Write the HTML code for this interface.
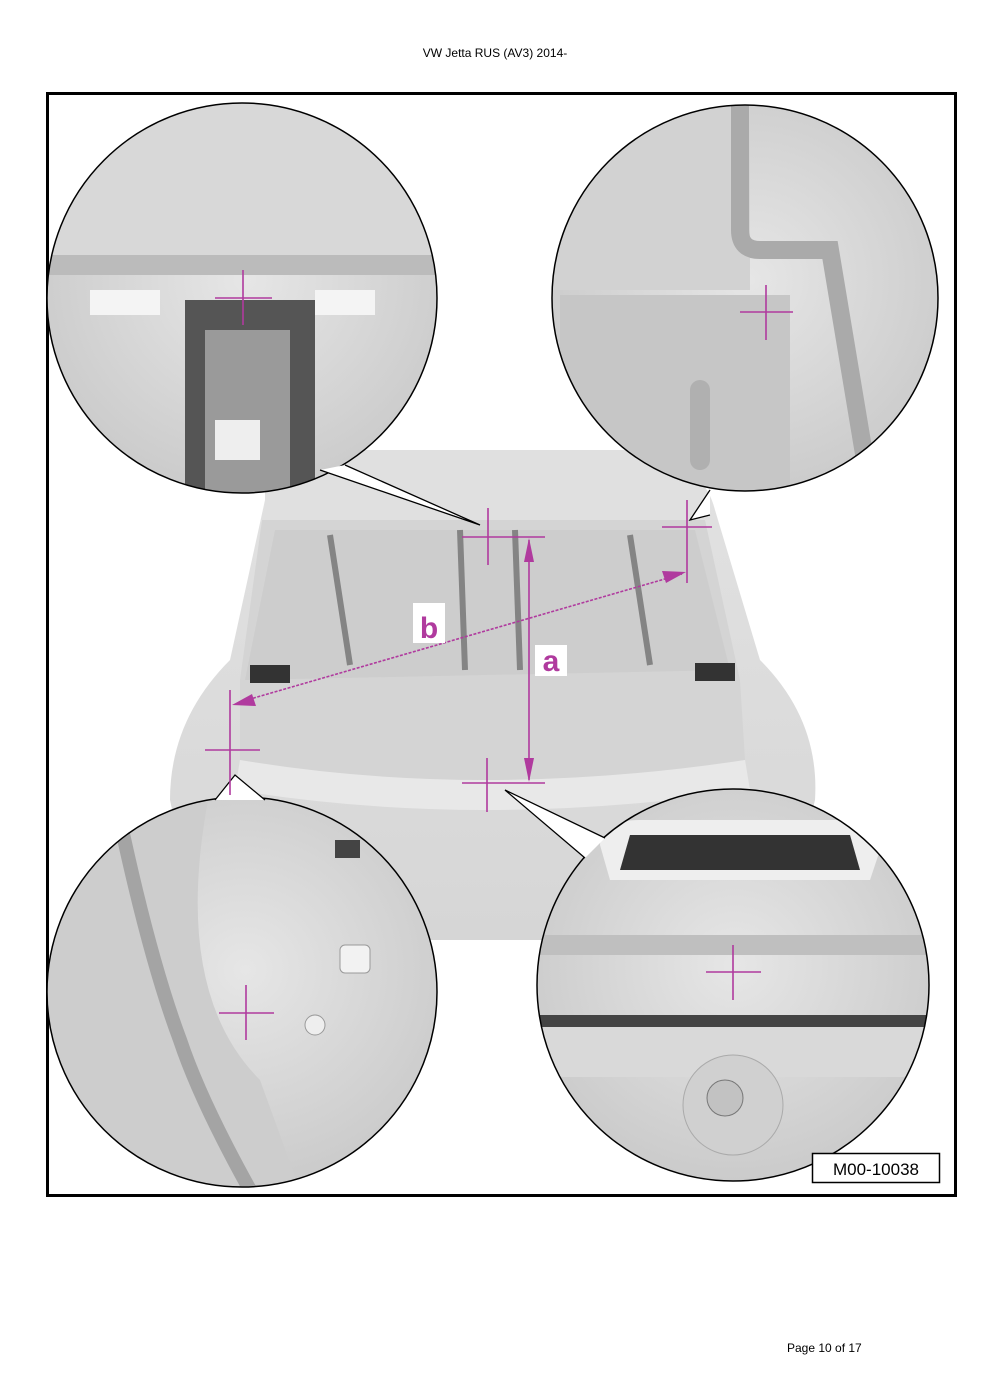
<!DOCTYPE html>
<html><head><style>
body{margin:0;background:#fff;}
svg{display:block;font-family:"Liberation Sans",sans-serif;}
</style></head><body>
<svg width="990" height="1400" viewBox="0 0 990 1400" xmlns="http://www.w3.org/2000/svg">
<defs>
<radialGradient id="g1" cx="0.5" cy="0.45" r="0.6"><stop offset="0" stop-color="#e6e6e6"/><stop offset="1" stop-color="#c8c8c8"/></radialGradient>
<linearGradient id="car" x1="0" y1="0" x2="0" y2="1"><stop offset="0" stop-color="#e2e2e2"/><stop offset="1" stop-color="#d6d6d6"/></linearGradient>
<clipPath id="c1"><circle cx="242" cy="298" r="195"/></clipPath>
<clipPath id="c2"><circle cx="745" cy="298" r="193"/></clipPath>
<clipPath id="c3"><circle cx="242" cy="992" r="195"/></clipPath>
<clipPath id="c4"><circle cx="733" cy="985" r="196"/></clipPath>
</defs>
<text x="495" y="57" font-size="12" text-anchor="middle">VW Jetta RUS (AV3) 2014-</text>
<rect x="47.5" y="93.5" width="908" height="1102" fill="#fff" stroke="#000" stroke-width="3"/>

<!-- car body -->
<path d="M265 500 Q270 470 330 455 L660 455 Q705 470 715 510 L760 660 Q820 720 815 800 L780 940 L200 940 L170 800 Q170 720 230 660 Z" fill="url(#car)"/>
<path d="M262 520 L705 520 L740 680 L745 760 Q600 790 480 785 Q330 785 240 760 L240 680 Z" fill="#d4d4d4"/>
<path d="M275 530 L695 530 L730 670 L245 680 Z" fill="#cdcdcd"/>
<rect x="265" y="450" width="440" height="70" fill="#e0e0e0"/>
<path d="M240 760 Q480 800 745 760 L750 790 Q480 830 235 790 Z" fill="#e8e8e8"/>
<path d="M330 535 l20 130 M630 535 l20 130 M460 530 l5 140 M515 530 l5 140" stroke="#555" stroke-width="6" opacity=".6"/>
<rect x="250" y="665" width="40" height="18" fill="#333"/><rect x="695" y="663" width="40" height="18" fill="#333"/>

<!-- circles -->
<g clip-path="url(#c1)">
<rect x="40" y="100" width="410" height="400" fill="url(#g1)"/>
<rect x="40" y="100" width="410" height="155" fill="#d8d8d8"/>
<rect x="40" y="255" width="410" height="20" fill="#bbb"/>
<rect x="185" y="300" width="130" height="200" fill="#555"/>
<rect x="205" y="330" width="85" height="170" fill="#9a9a9a"/>
<rect x="215" y="420" width="45" height="40" fill="#eee"/>
<rect x="90" y="290" width="70" height="25" fill="#f4f4f4"/><rect x="315" y="290" width="60" height="25" fill="#f4f4f4"/>
</g>
<circle cx="242" cy="298" r="195" fill="none" stroke="#000" stroke-width="1.5"/>
<g clip-path="url(#c2)">
<rect x="550" y="100" width="400" height="400" fill="url(#g1)"/>
<rect x="550" y="100" width="200" height="190" fill="#d2d2d2"/>
<path d="M740 100 L740 230 Q740 250 760 250 L830 250 L870 490" stroke="#aaa" stroke-width="18" fill="none"/>
<rect x="560" y="295" width="230" height="200" fill="#c6c6c6"/>
<rect x="690" y="380" width="20" height="90" rx="10" fill="#b0b0b0"/>
</g>
<circle cx="745" cy="298" r="193" fill="none" stroke="#000" stroke-width="1.5"/>
<g clip-path="url(#c3)">
<rect x="40" y="790" width="410" height="400" fill="url(#g1)"/>
<path d="M40 790 L210 790 Q170 990 260 1080 L300 1190 L40 1190 Z" fill="#cdcdcd"/>
<path d="M120 820 Q150 960 180 1040 Q200 1100 250 1190" stroke="#888" stroke-width="14" fill="none" opacity=".6"/>
<rect x="340" y="945" width="30" height="28" rx="5" fill="#f2f2f2" stroke="#999"/>
<rect x="335" y="840" width="25" height="18" fill="#444"/>
<circle cx="315" cy="1025" r="10" fill="#eee" stroke="#999"/>
</g>
<circle cx="242" cy="992" r="195" fill="none" stroke="#000" stroke-width="1.5"/>
<g clip-path="url(#c4)">
<rect x="530" y="785" width="410" height="400" fill="url(#g1)"/>
<path d="M600 845 Q600 820 640 820 L840 820 Q880 820 880 850 L870 880 L610 880 Z" fill="#eee"/>
<path d="M620 870 L630 835 L850 835 L860 870 Z" fill="#333"/>
<rect x="530" y="935" width="410" height="20" fill="#bfbfbf"/>
<rect x="530" y="1015" width="410" height="12" fill="#444"/>
<rect x="530" y="1027" width="410" height="50" fill="#d9d9d9"/>
<circle cx="733" cy="1105" r="50" fill="#d0d0d0" stroke="#aaa"/>
<circle cx="725" cy="1098" r="18" fill="#c2c2c2" stroke="#777"/>
</g>
<circle cx="733" cy="985" r="196" fill="none" stroke="#000" stroke-width="1.5"/>

<!-- callout wedges -->
<path d="M320 470 L480 525 L345 465" fill="#fff" stroke="#000" stroke-width="1.3"/>
<path d="M710 490 L690 520 L710 515" fill="#fff" stroke="#000" stroke-width="1.3"/>
<path d="M215 800 L235 775 L265 800" fill="#fff" stroke="#000" stroke-width="1.3"/>
<path d="M585 858 L505 790 L605 838" fill="#fff" stroke="#000" stroke-width="1.3"/>

<!-- magenta marks -->
<g stroke="#b03a9e" stroke-width="1.6" fill="none">
<path d="M243 270 V325 M215 298 H272"/>
<path d="M766 285 V340 M740 312 H793"/>
<path d="M246 985 V1040 M219 1013 H274"/>
<path d="M733 945 V1000 M706 972 H761"/>
<path d="M488 508 V565 M462 537 H545"/>
<path d="M687 500 V583 M662 527 H712"/>
<path d="M230 690 V795 M205 750 H260"/>
<path d="M487 758 V812 M462 783 H545"/>
<path d="M529 540 V780"/>
<path d="M240 702 L682 574" stroke-dasharray="3 1.5"/>
</g>
<g fill="#b03a9e">
<path d="M529 538 L524 562 L534 562 Z"/><path d="M529 782 L524 758 L534 758 Z"/>
<path d="M686 572 L662 571 L666 583 Z"/><path d="M232 705 L252 694 L256 706 Z"/>
</g>
<rect x="413" y="603" width="32" height="40" fill="#fff"/>
<text x="429" y="638" font-size="30" font-weight="bold" fill="#b03a9e" text-anchor="middle">b</text>
<rect x="535" y="645" width="32" height="31" fill="#fff"/>
<text x="551" y="671" font-size="30" font-weight="bold" fill="#b03a9e" text-anchor="middle">a</text>

<rect x="812.5" y="1153.5" width="127" height="29" fill="#fff" stroke="#000" stroke-width="1.5"/>
<text x="876" y="1175" font-size="17" text-anchor="middle">M00-10038</text>
<text x="787" y="1352" font-size="12">Page 10 of 17</text>
</svg>
</body></html>
